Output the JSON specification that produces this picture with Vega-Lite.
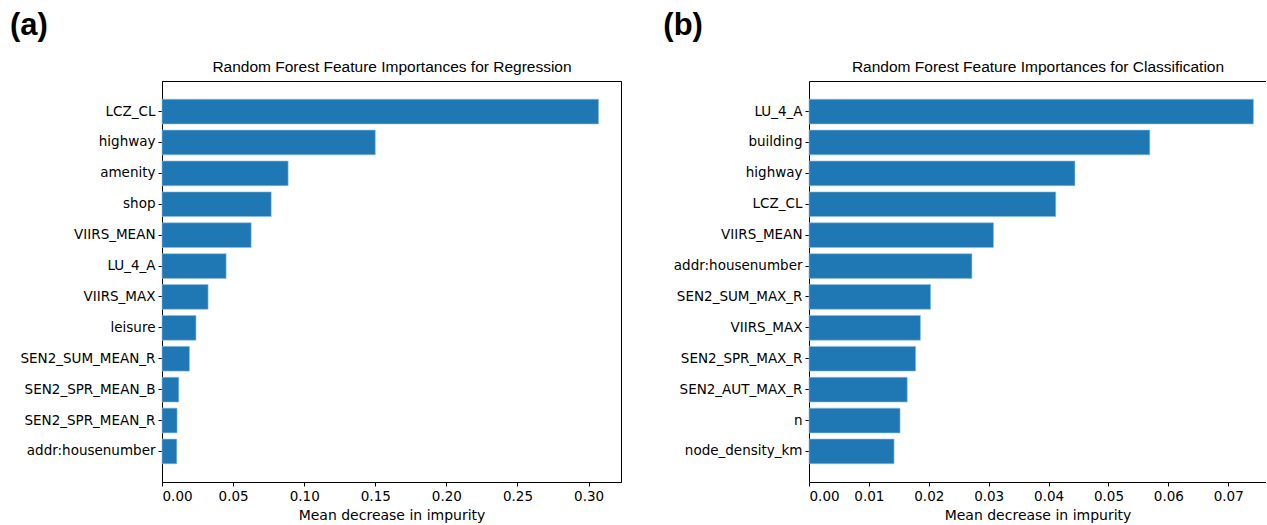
{
  "$schema": "https://vega.github.io/schema/vega-lite/v6.json",
  "background": "white",
  "padding": {"left": 9, "top": 9, "right": 0, "bottom": 0},
  "bounds": "flush",
  "spacing": 188,
  "config": {
    "font": "DejaVu Sans",
    "view": {"stroke": "black", "strokeWidth": 1},
    "axis": {
      "domainColor": "black", "domainWidth": 1, "tickColor": "black", "labelColor": "black", "titleColor": "black",
      "grid": false, "labelFont": "DejaVu Sans", "labelFontSize": 13.5, "titleFont": "DejaVu Sans",
      "titleFontSize": 14, "titleFontWeight": "normal", "tickSize": 4, "labelPadding": 3
    },
    "axisBottom": {"titlePadding": 6},
    "title": {"font": "Liberation Sans", "fontSize": 31, "fontWeight": "bold", "anchor": "start", "frame": "bounds", "color": "black", "offset": 17, "dx": -10}
  },
  "hconcat": [
    {
      "title": {"text": "(a)"},
      "width": 459,
      "height": 401,
      "data": {"values": [
        {"feature": "LCZ_CL", "importance": 0.307},
        {"feature": "highway", "importance": 0.150},
        {"feature": "amenity", "importance": 0.0887},
        {"feature": "shop", "importance": 0.0768},
        {"feature": "VIIRS_MEAN", "importance": 0.0627},
        {"feature": "LU_4_A", "importance": 0.0451},
        {"feature": "VIIRS_MAX", "importance": 0.0324},
        {"feature": "leisure", "importance": 0.0239},
        {"feature": "SEN2_SUM_MEAN_R", "importance": 0.0193},
        {"feature": "SEN2_SPR_MEAN_B", "importance": 0.0118},
        {"feature": "SEN2_SPR_MEAN_R", "importance": 0.0106},
        {"feature": "addr:housenumber", "importance": 0.0104}
      ]},
      "encoding": {
        "y": {"field": "feature", "type": "nominal", "sort": {"field": "importance", "order": "descending"},
              "scale": {"paddingInner": 0.2, "paddingOuter": 0.59}, "axis": {"title": null}}
      },
      "layer": [
        {
          "mark": {"type": "bar", "color": "#1f77b4", "stroke": "#8fbde3", "strokeWidth": 0.6},
          "encoding": {
            "x": {"field": "importance", "type": "quantitative", "scale": {"domain": [0, 0.3228], "nice": false},
                  "axis": {"title": "Mean decrease in impurity", "values": [0, 0.05, 0.1, 0.15, 0.2, 0.25, 0.3], "format": ".2f"}}
          }
        },
        {
          "mark": {"type": "bar", "opacity": 0},
          "encoding": {
            "x": {"field": "importance", "type": "quantitative",
                  "axis": {"orient": "top", "labels": false, "ticks": false, "title": "Random Forest Feature Importances for Regression",
                           "titleFont": "Liberation Sans", "titleFontSize": 15.5, "titlePadding": 7}}
          }
        }
      ],
      "resolve": {"axis": {"x": "independent"}}
    },
    {
      "title": {"text": "(b)"},
      "width": 457,
      "height": 401,
      "view": {"stroke": null},
      "data": {"values": [
        {"feature": "LU_4_A", "importance": 0.0742},
        {"feature": "building", "importance": 0.0569},
        {"feature": "highway", "importance": 0.0444},
        {"feature": "LCZ_CL", "importance": 0.0412},
        {"feature": "VIIRS_MEAN", "importance": 0.0308},
        {"feature": "addr:housenumber", "importance": 0.0272},
        {"feature": "SEN2_SUM_MAX_R", "importance": 0.0203},
        {"feature": "VIIRS_MAX", "importance": 0.0186},
        {"feature": "SEN2_SPR_MAX_R", "importance": 0.0178},
        {"feature": "SEN2_AUT_MAX_R", "importance": 0.0164},
        {"feature": "n", "importance": 0.0152},
        {"feature": "node_density_km", "importance": 0.0142}
      ]},
      "encoding": {
        "y": {"field": "feature", "type": "nominal", "sort": {"field": "importance", "order": "descending"},
              "scale": {"paddingInner": 0.2, "paddingOuter": 0.59}, "axis": {"title": null}}
      },
      "layer": [
        {
          "mark": {"type": "bar", "color": "#1f77b4", "stroke": "#8fbde3", "strokeWidth": 0.6},
          "encoding": {
            "x": {"field": "importance", "type": "quantitative", "scale": {"domain": [0, 0.0763], "nice": false},
                  "axis": {"title": "Mean decrease in impurity", "values": [0, 0.01, 0.02, 0.03, 0.04, 0.05, 0.06, 0.07], "format": ".2f"}}
          }
        },
        {
          "mark": {"type": "bar", "opacity": 0},
          "encoding": {
            "x": {"field": "importance", "type": "quantitative",
                  "axis": {"orient": "top", "labels": false, "ticks": false, "title": "Random Forest Feature Importances for Classification",
                           "titleFont": "Liberation Sans", "titleFontSize": 15.5, "titlePadding": 7}}
          }
        }
      ],
      "resolve": {"axis": {"x": "independent"}}
    }
  ]
}
